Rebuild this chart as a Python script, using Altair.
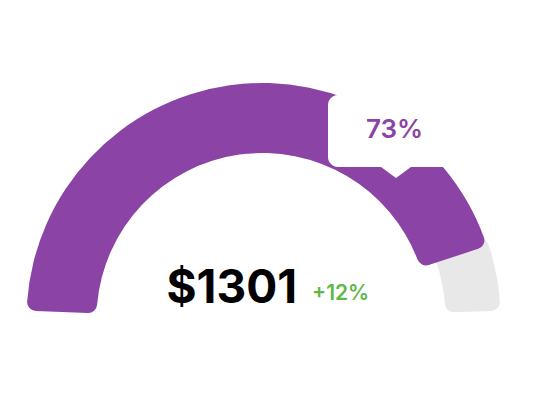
import altair as alt
import pandas as pd

# ---- data ----
segments = ["filled", "remaining"]
seg_start = [0.0, 0.895]     # fraction of the gauge sweep
seg_end = [0.909, 1.0]
amount_label = ["$1301"]
change_label = ["+12%"]
percent_label = ["73%"]

PURPLE = "#8b44a5"
GREY = "#e8e8e8"
GREEN = "#5fb84a"

W, H = 524, 384
CX, CY = 254.5, 311

df = pd.DataFrame({"segment": segments, "start": seg_start, "end": seg_end})
one_pct = pd.DataFrame({"label": percent_label})
one_amt = pd.DataFrame({"label": amount_label})
one_chg = pd.DataFrame({"label": change_label})

theta_scale = alt.Scale(domain=[0, 1], range=[-1.536, 1.536])

grey = alt.Chart(df).transform_filter(alt.datum.segment == "remaining").mark_arc(
    radius=238, radius2=183, cornerRadius=9, color=GREY
).encode(
    theta=alt.Theta("start:Q", scale=theta_scale),
    theta2="end:Q",
    x=alt.value(CX), y=alt.value(CY),
)

purple = alt.Chart(df).transform_filter(alt.datum.segment == "filled").mark_arc(
    radius=236, radius2=166, cornerRadius=9, color=PURPLE
).encode(
    theta=alt.Theta("start:Q", scale=theta_scale),
    theta2="end:Q",
    x=alt.value(CX), y=alt.value(CY),
)

box = alt.Chart(one_pct).mark_rect(color="white", cornerRadius=10).encode(
    x=alt.value(320), x2=alt.value(454), y=alt.value(87), y2=alt.value(159)
)

pointer = alt.Chart(one_pct).mark_point(
    shape="M-1.36,0 L1.36,0 L0,1 Z", filled=True, color="white", opacity=1, size=1024
).encode(x=alt.value(388), y=alt.value(154))

pct_text = alt.Chart(one_pct).mark_text(
    font="Inter", fontSize=26, fontWeight=600, color=PURPLE, align="center", baseline="middle"
).encode(text="label:N", x=alt.value(386.5), y=alt.value(122))

amt_text = alt.Chart(one_amt).mark_text(
    font="Inter", fontSize=46, fontWeight=700, color="#000000", align="right", baseline="alphabetic"
).encode(text="label:N", x=alt.value(289), y=alt.value(295))

chg_text = alt.Chart(one_chg).mark_text(
    font="Inter", fontSize=21, fontWeight=600, color=GREEN, align="left", baseline="alphabetic"
).encode(text="label:N", x=alt.value(304), y=alt.value(292))

chart = alt.layer(grey, purple, box, pointer, pct_text, amt_text, chg_text).properties(
    width=W, height=H, padding=0, autosize=alt.AutoSizeParams(type="none")
).configure_view(stroke=None)

chart.save("out.html", embed_options={"renderer": "svg", "actions": False})
